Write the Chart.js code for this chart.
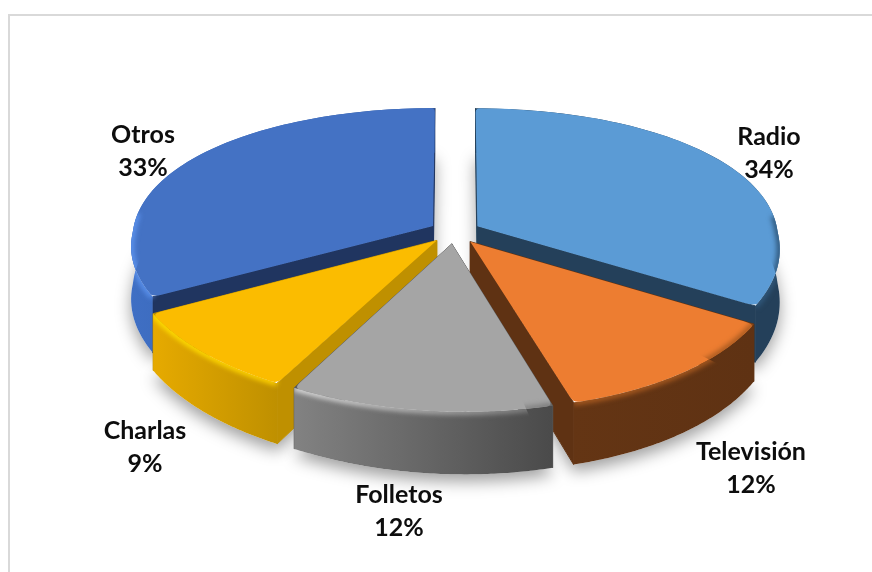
<!DOCTYPE html>
<html lang="es">
<head>
  <meta charset="UTF-8">
  <title>Medios</title>
  <style>
    html, body { margin: 0; padding: 0; background: #fff; overflow: hidden; }
    #wrap { position: relative; width: 872px; height: 572px; }
    #frame { position: absolute; left: 8px; top: 14px; width: 880px; height: 600px; border: 2px solid #d9d9d9; box-sizing: border-box; }
  </style>
</head>
<body>
  <div id="wrap">
    <div id="frame"></div>
    <canvas id="pie" width="872" height="572" style="position:absolute;left:0;top:0"></canvas>
  </div>

  <script src="https://cdn.jsdelivr.net/npm/chart.js"></script>
  <script>
    const categories = ['Radio', 'Televisión', 'Folletos', 'Charlas', 'Otros'];
    const percents = [34, 12, 12, 9, 33];

    // slice styling
    const faceColors = ['#5b9bd5', '#ed7d31', '#a5a5a5', '#fbbc00', '#4472c4'];
    const sideColors = ['#24405a', '#5f3213', '#5c5c5c', '#bf9000', '#203560'];
    const wallLeft = ['#24405a', '#643514', '#828282', '#e6aa00', '#3f6fc4'];
    const wallRight = ['#24405a', '#5f3213', '#4a4a4a', '#bf9000', '#2f5597'];
    const rimLeft = ['#3f74a6', '#a85a20', '#e0e0e0', '#ffe000', '#5c93ee'];
    const rimRight = ['#2f5679', '#a85a20', '#777777', '#ffd000', '#3a66b0'];

    // label anchors (centre of the two text lines)
    const labelX = [769, 751, 399, 145, 143];
    const labelY = [153, 468, 511, 447, 151];

    // fake 3D view of the flat pie
    const view = { stretchX: 1.35, stretchY: 0.62, persp: 0.155, perspBack: 0.09, perspFront: 0.145, skew: 12, depth: 52 };
    const drawOrder = [0, 4, 1, 3, 2];

    function projector(chart, el) {
      const R = el.outerRadius;
      const mid = (el.startAngle + el.endAngle) / 2 + Math.PI / 2;
      const e = el.options.offset / R;
      return function (a, r, h) {
        const u = e * Math.sin(mid) + r * Math.sin(a);
        const v = -e * Math.cos(mid) - r * Math.cos(a);
        const sy = 1 / (1 - view.persp * v);
        const sx = 1 / (1 - (v > 0 ? view.perspFront : view.perspBack) * v);
        const skew = view.skew * Math.max(v, 0) * Math.max(v, 0);
        return [el.x + R * view.stretchX * u * sx + skew, el.y + R * view.stretchY * v * sy + view.depth * h * sy];
      };
    }

    function arcPoints(pt, a0, a1, h) {
      const pts = [];
      const n = 80;
      for (let i = 0; i <= n; i++) {
        pts.push(pt(a0 + (a1 - a0) * i / n, 1, h));
      }
      return pts;
    }

    function facePath(ctx, pt, a0, a1) {
      const trim = 0.018;
      const apex = pt(0, 0, 0);
      const c0 = pt(a0, 1, 0), c1 = pt(a1, 1, 0);
      const near = (p, q, t) => [p[0] + (q[0] - p[0]) * t, p[1] + (q[1] - p[1]) * t];
      const s = near(c0, apex, 0.035), e = near(c1, apex, 0.035);
      ctx.beginPath();
      ctx.moveTo(apex[0], apex[1]);
      ctx.lineTo(s[0], s[1]);
      ctx.quadraticCurveTo(c0[0], c0[1], ...pt(a0 + trim, 1, 0));
      arcPoints(pt, a0 + trim, a1 - trim, 0).forEach(p => ctx.lineTo(p[0], p[1]));
      ctx.quadraticCurveTo(c1[0], c1[1], e[0], e[1]);
      ctx.closePath();
    }

    function polygon(ctx, pts) {
      ctx.beginPath();
      pts.forEach((p, i) => i ? ctx.lineTo(p[0], p[1]) : ctx.moveTo(p[0], p[1]));
      ctx.closePath();
    }

    function silhouette(pt, a0, a1) {
      const top = arcPoints(pt, a0, a1, 0);
      const bottom = arcPoints(pt, a0, a1, 1);
      return { top, bottom, wall: top.concat(bottom.slice().reverse()) };
    }

    function xGradient(ctx, pts, c0, c1) {
      const xs = pts.map(p => p[0]);
      const g = ctx.createLinearGradient(Math.min(...xs), 0, Math.max(...xs), 0);
      g.addColorStop(0, c0);
      g.addColorStop(1, c1);
      return g;
    }

    const pie3d = {
      id: 'pie3d',
      beforeDatasetDraw() { return false; },
      afterDatasetsDraw(chart) {
        const ctx = chart.ctx;
        const arcs = chart.getDatasetMeta(0).data;
        const bodies = arcs.map(el => {
          const pt = projector(chart, el);
          const a0 = el.startAngle + Math.PI / 2, a1 = el.endAngle + Math.PI / 2;
          return { pt, a0, a1, shape: silhouette(pt, a0, a1) };
        });

        // soft floor shadow first, so it only lands on the background
        ctx.save();
        ctx.shadowColor = 'rgba(0,0,0,0.38)';
        ctx.shadowBlur = 16;
        ctx.shadowOffsetY = 7;
        ctx.fillStyle = '#fff';
        bodies.forEach(b => {
          polygon(ctx, [b.pt(0, 0, 1)].concat(b.shape.bottom));
          ctx.fill();
        });
        ctx.restore();

        drawOrder.forEach(i => {
          const { pt, a0, a1, shape } = bodies[i];

          // radial side walls, hairline stroke closes the seam with the outer wall
          ctx.fillStyle = sideColors[i];
          ctx.strokeStyle = sideColors[i];
          ctx.lineWidth = 1;
          [a0, a1].forEach(a => {
            polygon(ctx, [pt(0, 0, 0), pt(a, 1, 0), pt(a, 1, 1), pt(0, 0, 1)]);
            ctx.fill();
            ctx.stroke();
          });

          // curved outer wall
          ctx.fillStyle = xGradient(ctx, shape.wall, wallLeft[i], wallRight[i]);
          polygon(ctx, shape.wall);
          ctx.fill();

          // top face
          ctx.fillStyle = faceColors[i];
          facePath(ctx, pt, a0, a1);
          ctx.fill();

          // blurred bevel along the front of the rim only
          ctx.save();
          polygon(ctx, [pt(0, 0, 0)].concat(shape.top, shape.bottom.slice().reverse()));
          ctx.clip();
          ctx.filter = 'blur(2.5px)';
          ctx.strokeStyle = xGradient(ctx, shape.top, rimLeft[i], rimRight[i]);
          ctx.lineWidth = 6;
          ctx.beginPath();
          let started = false;
          shape.top.forEach((p, k) => {
            const a = a0 + (a1 - a0) * k / (shape.top.length - 1);
            if (Math.cos(a) > 0.1) return;
            if (started) ctx.lineTo(p[0], p[1]);
            else { ctx.moveTo(p[0], p[1]); started = true; }
          });
          ctx.stroke();
          ctx.restore();
        });

        // labels
        ctx.save();
        ctx.font = 'bold 25px Lato, "Open Sans", sans-serif';
        ctx.textAlign = 'center';
        ctx.textBaseline = 'middle';
        ctx.fillStyle = '#0d0d0d';
        categories.forEach((name, i) => {
          ctx.fillText(name, labelX[i], labelY[i] - 16);
          ctx.fillText(percents[i] + '%', labelX[i], labelY[i] + 17);
        });
        ctx.restore();
      }
    };

    new Chart(document.getElementById('pie'), {
      type: 'pie',
      data: {
        labels: categories,
        datasets: [{ data: percents, backgroundColor: faceColors, borderWidth: 0, offset: 19 }]
      },
      options: {
        responsive: false,
        animation: false,
        rotation: 0,
        layout: { padding: { left: 38, bottom: 108 } },
        plugins: { legend: { display: false }, tooltip: { enabled: false } }
      },
      plugins: [pie3d]
    });
  </script>
</body>
</html>
